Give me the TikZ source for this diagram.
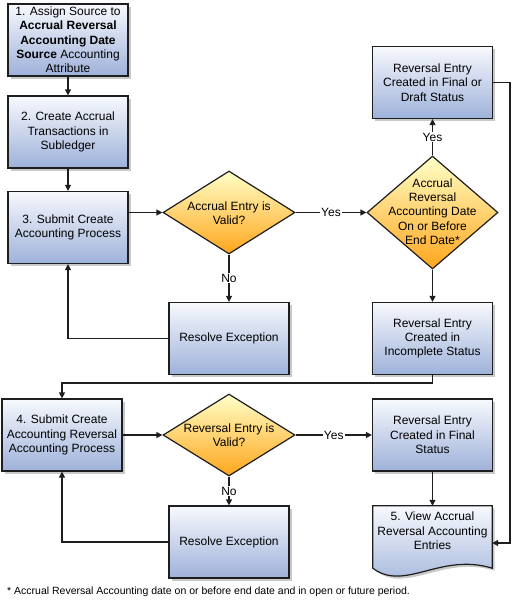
\documentclass[tikz,border=0pt]{standalone}
\usepackage{fontspec}
\setmainfont{Liberation Sans}
\usetikzlibrary{shapes.geometric,arrows.meta,shadows,calc}
\definecolor{boxtop}{RGB}{247,249,253}
\definecolor{boxbot}{RGB}{158,177,218}
\definecolor{diatop}{RGB}{255,255,200}
\definecolor{diabot}{RGB}{255,166,28}
\definecolor{edge}{RGB}{30,30,30}
\begin{document}
\begin{tikzpicture}[x=1pt,y=-1pt,
  font=\fontsize{12}{14.3}\selectfont,
  shad/.style={drop shadow={shadow xshift=2.5pt, shadow yshift=-2.5pt, fill=black!30, opacity=0.7}},
  proc/.style={rectangle, draw=edge, line width=1.2pt, top color=boxtop, bottom color=boxbot,
    minimum width=120pt, minimum height=72pt, inner sep=0pt, align=center, shad},
  dec/.style={diamond, draw=edge, line width=1.2pt, top color=diatop, bottom color=diabot,
    inner sep=0pt, aspect=1.6},
  txt/.style={align=center, inner sep=0pt},
  arr/.style={draw=edge, line width=1.2pt, -{Triangle[length=6pt,width=6pt]}},
  lbl/.style={fill=white, inner sep=1pt}
]
\useasboundingbox (0,0) rectangle (512,605);

% process boxes
\node[proc] (b1) at (68,40) {1. Assign Source to\\\textbf{Accrual Reversal}\\\textbf{Accounting Date}\\\textbf{Source} Accounting\\Attribute};
\node[proc] (b2) at (68,132) {2. Create Accrual\\Transactions in\\Subledger};
\node[proc] (b3) at (68,227.5) {3. Submit Create\\Accounting Process};
\node[proc] (rfd) at (432.5,82.5) {Reversal Entry\\Created in Final or\\Draft Status};
\node[proc] (re1) at (229,338.5) {Resolve Exception};
\node[proc] (rinc) at (432.5,338.5) {Reversal Entry\\Created in\\Incomplete Status};
\node[proc] (b4) at (62,435) {4. Submit Create\\Accounting Reversal\\Accounting Process};
\node[proc] (rf) at (432.5,435) {Reversal Entry\\Created in Final\\Status};
\node[proc] (re2) at (229,542) {Resolve Exception};

% decisions
\node[dec, minimum width=132pt, minimum height=83pt] (d1) at (229,212.5) {};
\node[txt] (d1t) at (229,213.5) {Accrual Entry is\\Valid?};
\node[dec, minimum width=131pt, minimum height=113pt] (d2) at (432.5,212.5) {};
\node[txt] (d2t) at (432.5,211.5) {Accrual\\Reversal\\Accounting Date\\On or Before\\End Date*};
\node[dec, minimum width=132pt, minimum height=82pt] (d3) at (229,435) {};
\node[txt] (d3t) at (229,435) {Reversal Entry is\\Valid?};

% document
\node[minimum width=119pt, minimum height=62pt, inner sep=0pt] (doc) at (432.5,537) {};
\path[draw=edge, line width=1.2pt, top color=boxtop, bottom color=boxbot, shad]
  (doc.north west) -- (doc.north east) -- (doc.south east)
  .. controls ($(doc.south east)+(-52,-16)$) and ($(doc.south west)+(32,24)$) .. (doc.south west) -- cycle;
\node[txt] (doct) at (432.5,531) {5. View Accrual\\Reversal Accounting\\Entries};

% connectors
\draw[arr] (b1) -- (b2);
\draw[arr] (b2) -- (b3);
\draw[arr] (b3.east |- d1) -- (d1);
\draw[arr] (d1) -- node[lbl]{Yes} (d2);
\draw[arr] (d2) -- node[lbl]{Yes} (rfd);
\draw[arr] (d2) -- (rinc);
\draw[arr] (d1) -- node[lbl]{No} (re1);
\draw[arr] (re1.west) -| (b3.south);
\coordinate (j1) at (432.5,383);
\draw[arr] (rinc.south) -- (j1) -| (b4.north);
\draw[arr] (b4.east) -- (d3);
\draw[arr] (d3) -- node[lbl]{Yes} (rf);
\draw[arr] (d3) -- node[lbl]{No} (re2);
\draw[arr] (re2.west) -| (b4.south);
\draw[arr] (rf) -- (doc.north);
\coordinate (j2) at (510,543);
\draw[arr] (rfd.east) -| (j2) -- (doc.east |- j2);

% footnote
\node[anchor=west, inner sep=0pt, font=\fontsize{10.5}{12}\selectfont] (fn) at (7,592)
  {* Accrual Reversal Accounting date on or before end date and in open or future period.};
\end{tikzpicture}
\end{document}
